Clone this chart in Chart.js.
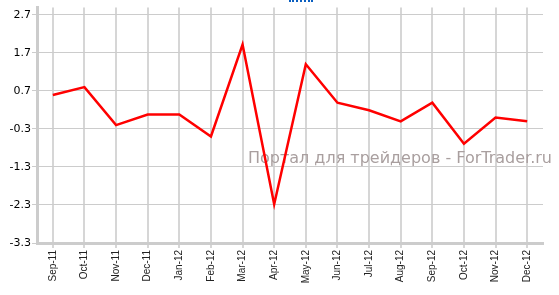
<!DOCTYPE html>
<html>
<head>
<meta charset="utf-8">
<script src="https://cdn.jsdelivr.net/npm/chart.js@4/dist/chart.umd.min.js"></script>
<style>
  html, body { margin: 0; padding: 0; background: #fff; }
  #wrap { position: relative; width: 559px; height: 295px; }
  #dots { position: absolute; left: 289px; top: 0; width: 24px; height: 2px; border-top: 2px dotted #0a5fc0; }
</style>
</head>
<body>
<div id="wrap">
  <canvas id="chart" width="559" height="295"></canvas>
  <div id="dots"></div>
</div>
<script>
// категории и значения
const months = ["Sep-11", "Oct-11", "Nov-11", "Dec-11", "Jan-12", "Feb-12", "Mar-12", "Apr-12",
  "May-12", "Jun-12", "Jul-12", "Aug-12", "Sep-12", "Oct-12", "Nov-12", "Dec-12"];
const values = [0.59, 0.80, -0.20, 0.08, 0.08, -0.50, 1.92, -2.28,
  1.40, 0.39, 0.19, -0.10, 0.39, -0.69, 0.00, -0.10];
const yTicks = [-3.3, -2.3, -1.3, -0.3, 0.7, 1.7, 2.7];
const watermark = "Портал для трейдеров - ForTrader.ru";

// водяной знак под линией
const watermarkPlugin = {
  id: "watermark",
  beforeDatasetsDraw(chart) {
    const ctx = chart.ctx;
    ctx.save();
    ctx.font = "16px 'DejaVu Sans'";
    ctx.fillStyle = "#a99f9f";
    ctx.textAlign = "right";
    ctx.textBaseline = "alphabetic";
    ctx.fillText(watermark, 552, 163);
    ctx.restore();
  },
};

new Chart(document.getElementById("chart").getContext("2d"), {
  type: "line",
  data: {
    labels: months,
    datasets: [
      {
        data: values,
        borderColor: "#ff0000",
        borderWidth: 2.5,
        pointRadius: 0,
        tension: 0,
        fill: false,
      },
    ],
  },
  options: {
    responsive: false,
    animation: false,
    layout: { padding: { top: 5, right: 16, left: 0, bottom: 0 } },
    plugins: {
      legend: { display: false },
      tooltip: { enabled: false },
    },
    scales: {
      x: {
        offset: true,
        grid: {
          offset: false,
          color: "#d6d6d6",
          lineWidth: 2,
          tickLength: 5,
          drawTicks: true,
        },
        border: { color: "#cccccc", width: 3 },
        ticks: {
          minRotation: 90,
          maxRotation: 90,
          autoSkip: false,
          padding: 2,
          color: "#222",
          font: { family: "'Liberation Sans'", size: 10 },
        },
        afterFit(scale) { scale.height = 52; },
      },
      y: {
        min: -3.3,
        max: 2.89,
        afterBuildTicks(scale) {
          scale.ticks = yTicks.map((v) => ({ value: v }));
        },
        grid: { color: "#cccccc", lineWidth: 1, tickLength: 5 },
        border: { color: "#cccccc", width: 3 },
        ticks: {
          padding: 1,
          color: "#000",
          font: { family: "'DejaVu Sans'", size: 11 },
          callback: (v) => v.toFixed(1),
        },
        afterFit(scale) { scale.width = 37; },
      },
    },
  },
  plugins: [watermarkPlugin],
});
</script>
</body>
</html>
